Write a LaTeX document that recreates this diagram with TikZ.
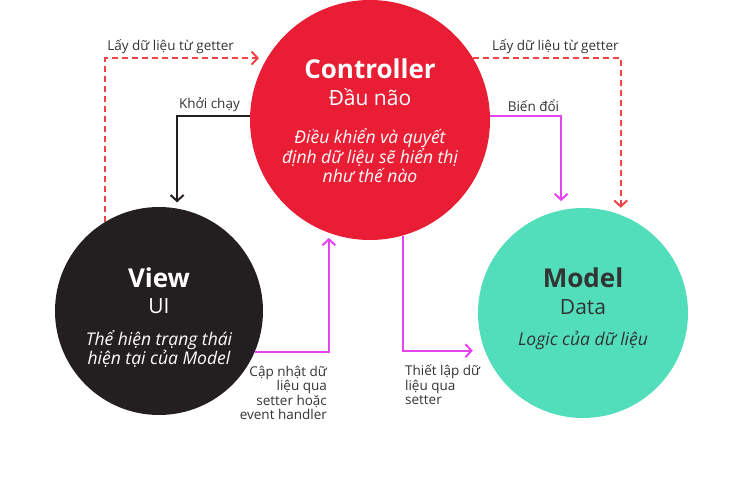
\documentclass[tikz,border=0pt]{standalone}
\usepackage{fontspec}
\setmainfont{Open Sans}
\usetikzlibrary{arrows.meta}

\definecolor{ctrlred}{HTML}{E91E34}
\definecolor{viewblack}{HTML}{231F20}
\definecolor{modelteal}{HTML}{52DEBA}
\definecolor{linkpink}{HTML}{E543EE}
\definecolor{getred}{HTML}{EE4444}
\definecolor{labelgray}{HTML}{333333}

\tikzset{
  bubble/.style={circle, inner sep=0pt, minimum size=#1},
  title/.style={font=\bfseries\fontsize{26}{30}\selectfont},
  subtitle/.style={font=\fontsize{21}{24}\selectfont},
  blurb/.style={font=\itshape\fontsize{17.5}{19.5}\selectfont, align=center},
  note/.style={font=\fontsize{13.5}{14.5}\selectfont, text=labelgray, inner sep=1pt},
  link/.style={line width=2pt, -{Straight Barb[length=6pt,width=13pt]}},
  getter/.style={link, getred, dash pattern=on 6pt off 4pt},
}

\begin{document}
\begin{tikzpicture}[x=1pt,y=-1pt]
  \useasboundingbox (0,0) rectangle (754,497);
  % the three parts
  \node[bubble=240pt, fill=ctrlred] (ctrl) at (370,120) {};
  \node[bubble=208pt, fill=viewblack] (view) at (159,311) {};
  \node[bubble=210pt, fill=modelteal] (model) at (583,313) {};

  \node[title, text=white] (ctrlname) at (370,69) {Controller};
  \node[subtitle, text=white] (ctrlrole) at (370,97) {Đầu não};
  \node[blurb, text=white] (ctrltext) at (370,156) {Điều khiển và quyết\\định dữ liệu sẽ hiển thị\\như thế nào};

  \node[title, text=white] (viewname) at (159,278) {View};
  \node[subtitle, text=white] (viewrole) at (159,306) {UI};
  \node[blurb, text=white] (viewtext) at (159,349) {Thể hiện trạng thái\\hiện tại của Model};

  \node[title, text=labelgray] (modelname) at (583,278) {Model};
  \node[subtitle, text=labelgray] (modelrole) at (583,307) {Data};
  \node[blurb, text=labelgray] (modeltext) at (583,340) {Logic của dữ liệu};

  % connectors
  \draw[getter, shorten >=8pt] (view.121) |- (ctrl.149)
    node[pos=0.5, note, above right, yshift=2pt] {Lấy dữ liệu từ getter};
  \draw[getter, shorten >=7pt] (ctrl.31) -| (model.69)
    node[pos=0.5, note, above left, yshift=2pt] {Lấy dữ liệu từ getter};
  \draw[link, viewblack, shorten >=6pt] (ctrl.178) -| (view.80)
    node[pos=0.5, note, above right, yshift=2pt] {Khởi chạy};
  \draw[link, linkpink, shorten >=9pt] (ctrl.2) -| (model.102)
    node[pos=0.5, note, above left, yshift=2pt] {Biến đổi};
  \draw[link, linkpink, shorten >=5pt] (view.-23) -| (ctrl.250)
    node[pos=0.5, note, below left, align=right, yshift=-12pt] {Cập nhật dữ\\liệu qua\\setter hoặc\\event handler};
  \draw[link, linkpink, shorten >=12pt] (ctrl.-74) |- (model.201)
    node[pos=0.5, note, below right, align=left, yshift=-12pt] {Thiết lập dữ\\liệu qua\\setter};
\end{tikzpicture}
\end{document}
